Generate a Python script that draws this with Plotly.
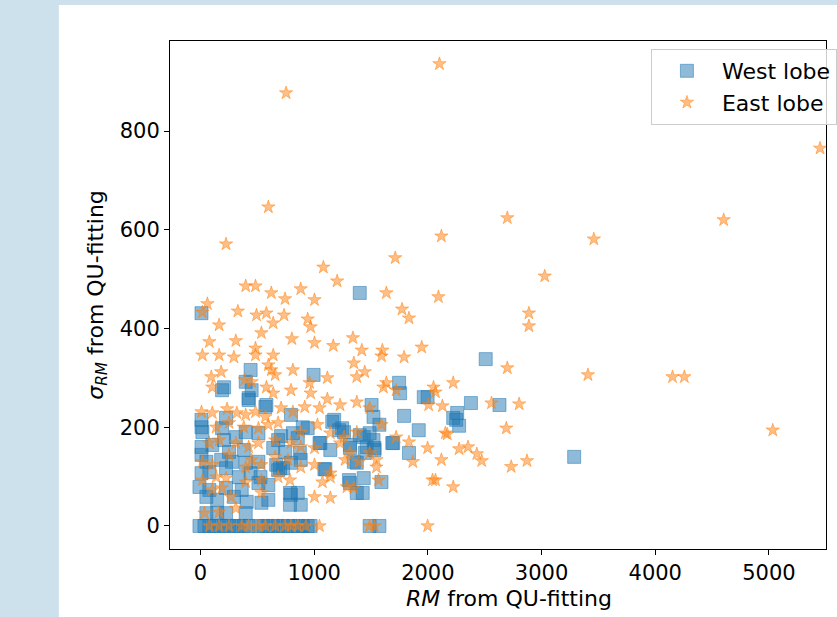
import plotly.graph_objects as go

# ---------------- data ----------------
west_rm = [
    1401, 9, 441, 398, 995, 208, 450, 424, 571, 1747,
    1756, 1964, 1998, 1505, 1791, 1920, 2223, 9, 225, 796,
    900, 1176, 2509, 2379, 2630, 2258, 2249, 2275, 3287, 9,
    17, 190, 311, 398, 510, 709, 813, 856, 943, 1220,
    1263, 1401, 1488, 1522, 1695, 1834, 9, 104, 208, 251,
    381, 640, 744, 874, 1142, 1315, 1462, 1531, 9, 52,
    182, 277, 398, 510, 666, 727, 796, 882, 1349, 1445,
    9, 78, 225, 337, 441, 528, 683, 1099, 1306, 1436,
    1592, -9, 78, 225, 363, 510, 597, 787, 856, 1375,
    52, 147, 294, 407, 536, 597, 787, 882, 52, 147,
    225, 398, 190, 424, 580, 1047, 683, 700, 796, 1522,
    1574, 1159, 1246, 1436, 1055, 1315, 1531, 1687, 1375, 1090,
    1315, 1427,
    -9, 35, 78, 121, 164, 208, 251, 294, 337, 381,
    424, 510, 554, 597, 640, 683, 727, 770, 813, 856,
    900, 943, 969, 1488, 1574,
]
west_sigma = [
    472, 431, 316, 292, 306, 281, 275, 259, 241, 290,
    269, 261, 261, 245, 223, 194, 219, 215, 219, 225,
    200, 215, 338, 249, 245, 229, 215, 203, 140, 200,
    190, 198, 180, 190, 188, 182, 188, 178, 198, 194,
    190, 184, 188, 174, 168, 148, 160, 164, 174, 150,
    154, 158, 150, 148, 154, 158, 160, 158, 144, 130,
    134, 130, 128, 130, 124, 117, 128, 134, 130, 148,
    107, 109, 117, 99, 107, 99, 113, 115, 93, 97,
    89, 79, 73, 77, 73, 87, 83, 67, 67, 67,
    59, 53, 59, 49, 47, 53, 43, 43, 26, 26,
    26, 26, 275, 255, 245, 168, 174, 117, 63, 221,
    205, 211, 198, 180, 168, 164, 154, 168, 128, 115,
    87, 67,
    0, 0, 0, 0, 0, 0, 0, 0, 0, 0,
    0, 0, 0, 0, 0, 0, 0, 0, 0, 0,
    0, 0, 0, 0, 0,
]

east_rm = [
    2102, 753, 5450, 597, 2699, 4602, 225, 2119, 3460, 1713,
    1081, 1202, 3028, 398, 484, 882, 623, 1635, 2093, 744,
    1003, 61, 17, 329, 493, 580, 735, 943, 969, 1773,
    1834, 2889, 2889, 164, 536, 640, 78, 311, 484, 804,
    1003, 1168, 1341, 1419, 1600, 1592, 1791, 1946, 17, 164,
    294, 484, 640, 597, 623, 813, 182, 95, 657, 1349,
    1445, 1375, 1116, 1635, 2223, 2050, 2699, 3408, 4152, 4256,
    2067, 2560, 2803, 2128, 2690, 5034, 2171, 2275, 2353, 2431,
    2474, 2119, 2733, 2872, 2067, 2223, 104, 389, 450, 580,
    796, 960, 969, 640, 1609, 1721, 2007, 1116, 917, 1047,
    1228, 1375, 1488, 9, 104, 234, 320, 398, 484, 571,
    709, 813, 138, 251, 381, 510, 597, 683, 882, 1029,
    1142, 1263, 1375, 1592, 1721, 1834, 1998, 2154, 78, 164,
    311, 424, 510, 657, 796, 882, 1003, 1228, 1315, 1393,
    1488, 1548, 1868, 17, 104, 251, 398, 450, 536, 657,
    770, 882, 1003, 1142, 1272, 1548, 17, 138, 225, 398,
    536, 683, 787, 1073, 1142, 1349, 1566, 2041, 104, 190,
    268, 536, 1003, 1142, 1289, 35, 164, 311,
    78, 164, 251, 363, 424, 510, 571, 657, 744, 796,
    856, 926, 1047, 1488, 1531, 1998,
]
east_sigma = [
    936, 877, 765, 646, 624, 620, 571, 587, 581, 543,
    524, 496, 506, 486, 486, 480, 472, 472, 464, 460,
    458, 450, 433, 435, 427, 431, 427, 419, 403, 439,
    421, 431, 405, 407, 391, 411, 373, 375, 360, 379,
    371, 365, 381, 356, 356, 344, 342, 362, 346, 346,
    342, 346, 346, 326, 316, 316, 312, 302, 306, 330,
    312, 302, 300, 290, 290, 281, 320, 306, 302, 302,
    271, 249, 247, 243, 198, 194, 186, 156, 160, 146,
    132, 134, 120, 132, 93, 79, 281, 296, 292, 281,
    275, 290, 269, 269, 281, 275, 245, 257, 241, 239,
    245, 251, 239, 231, 229, 237, 229, 225, 231, 221,
    239, 231, 200, 209, 200, 198, 205, 209, 190, 205,
    188, 180, 190, 205, 180, 170, 158, 188, 168, 174,
    168, 160, 168, 174, 168, 160, 158, 168, 148, 130,
    148, 134, 130, 130, 124, 144, 119, 134, 124, 140,
    134, 119, 124, 107, 134, 119, 93, 99, 97, 89,
    93, 99, 93, 89, 99, 77, 93, 93, 73, 77,
    59, 67, 59, 57, 79, 26, 28, 36,
    0, 0, 0, 0, 0, 0, 0, 0, 0, 0,
    0, 0, 0, 0, 0, 0,
]

x_ticks = [0, 1000, 2000, 3000, 4000, 5000]
y_ticks = [0, 200, 400, 600, 800]
series_names = ["West lobe", "East lobe"]
x_title = "<i>RM</i> from QU-fitting"
y_title = "<i>σ</i><sub><i>RM</i></sub> from QU-fitting"

# ---------------- styling ----------------
FONT = "DejaVu Sans"
BLUE = "rgba(31,119,180,0.5)"
ORANGE = "rgba(255,127,14,0.5)"

fig = go.Figure()
fig.add_trace(go.Scatter(
    x=west_rm, y=west_sigma, mode="markers", name=series_names[0],
    marker=dict(symbol="square", size=13, color=BLUE,
                line=dict(color=BLUE, width=1)),
))
fig.add_trace(go.Scatter(
    x=east_rm, y=east_sigma, mode="markers", name=series_names[1],
    marker=dict(symbol="star", size=10, color=ORANGE,
                line=dict(color=ORANGE, width=1)),
))

W, H = 837, 617
ML, MR, MT, MB = 170, 0, 41, 68
pw, ph = W - ML - MR, H - MT - MB

fig.update_layout(
    width=W, height=H,
    margin=dict(l=ML, r=MR, t=MT, b=MB, pad=0),
    paper_bgcolor="#cce1ec",
    plot_bgcolor="white",
    font=dict(family=FONT, size=21, color="black"),
    showlegend=True,
    legend=dict(
        x=(659 - ML) / pw, y=1 - (49 - MT) / ph,
        xanchor="left", yanchor="top",
        bgcolor="rgba(255,255,255,0.8)", bordercolor="#cccccc", borderwidth=1,
        font=dict(family=FONT, size=22, color="black"),
        itemsizing="trace", itemwidth=60,
        tracegroupgap=0,
    ),
    shapes=[dict(
        type="rect", xref="paper", yref="paper", layer="below",
        x0=(57 - ML) / pw, x1=1.05, y0=-MB / ph - 0.05, y1=((H - MB) - 5) / ph,
        fillcolor="white", line=dict(width=0),
    )],
    annotations=[dict(
        text=x_title, xref="paper", yref="paper",
        x=(515 - ML) / pw, y=-((598 - (H - MB)) / ph),
        xanchor="center", yanchor="middle", showarrow=False,
        font=dict(family=FONT, size=22, color="black"),
    )],
)

fig.update_xaxes(
    range=[-268, 5502], tickvals=x_ticks, ticktext=[str(v) for v in x_ticks],
    showgrid=False, zeroline=False,
    showline=True, linecolor="black", linewidth=1, mirror=True,
    ticks="outside", ticklen=5, tickcolor="black", tickwidth=1,
    tickfont=dict(family=FONT, size=21, color="black"),
)
fig.update_yaxes(
    range=[-46.6, 982.3], tickvals=y_ticks, ticktext=[str(v) for v in y_ticks],
    showgrid=False, zeroline=False,
    showline=True, linecolor="black", linewidth=1, mirror=True,
    ticks="outside", ticklen=5, tickcolor="black", tickwidth=1,
    tickfont=dict(family=FONT, size=21, color="black"),
    title=dict(text=y_title, standoff=10,
               font=dict(family=FONT, size=22, color="black")),
)

fig.write_html(
    "out.html",
    config={"displayModeBar": False},
    post_script="document.body.style.margin='0px';document.body.style.overflow='hidden';",
)
